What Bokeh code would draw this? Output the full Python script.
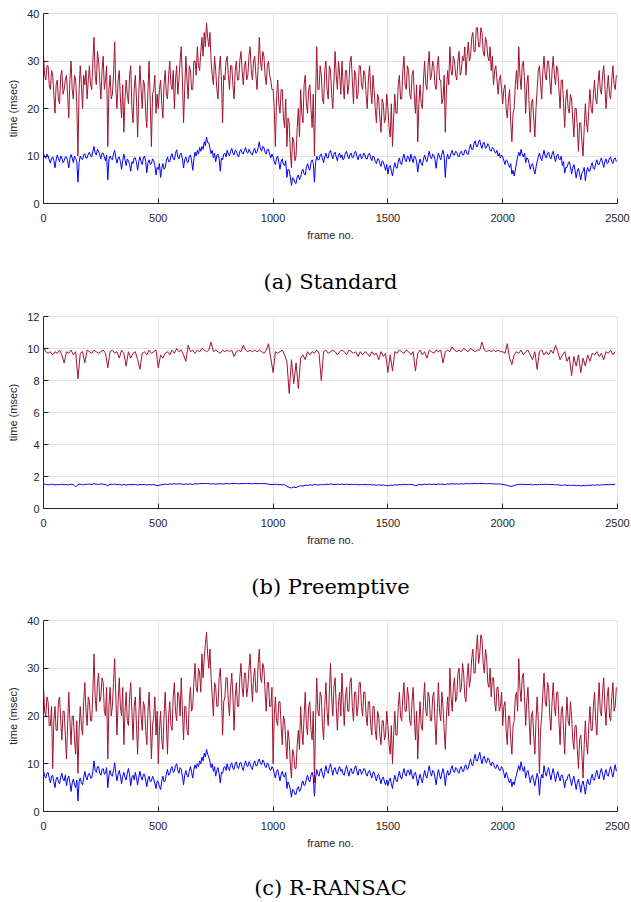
from bokeh.plotting import figure
from bokeh.models import Range1d, FixedTicker, LinearAxis
from bokeh.layouts import column
from bokeh.embed import file_html
from bokeh.resources import INLINE

RED = "#A2142F"
BLUE = "#0000FF"
STEP_FINE = 5     # one value every 5 frames
STEP_COARSE = 10  # one value every 10 frames

x_ticks = [0, 500, 1000, 1500, 2000, 2500]
y_ticks_ab = [0, 10, 20, 30, 40]
y_ticks_b = [0, 2, 4, 6, 8, 10, 12]
captions = ["(a) Standard", "(b) Preemptive", "(c) R-RANSAC"]

standard_red = [
    31, 27, 26, 29, 29, 25, 24, 28, 27, 23, 19, 25, 26, 22, 21, 27, 28, 23, 24, 26,
    27, 23, 18, 26, 30, 24, 22, 27, 26, 21, 10, 24, 29, 25, 20, 27, 25, 28, 22, 26,
    29, 25, 24, 30, 35, 27, 25, 32, 30, 26, 22, 28, 31, 24, 26, 29, 12, 24, 27, 22,
    23, 27, 34, 24, 20, 26, 28, 22, 18, 25, 15, 22, 26, 23, 21, 27, 29, 20, 17, 24,
    27, 22, 14, 23, 29, 24, 20, 26, 25, 19, 16, 24, 30, 21, 12, 23, 24, 27, 19, 23,
    20, 24, 26, 21, 18, 25, 28, 23, 22, 27, 30, 25, 24, 28, 20, 26, 29, 23, 26, 30,
    33, 26, 17, 24, 31, 26, 22, 29, 28, 24, 24, 30, 30, 27, 33, 29, 28, 32, 35, 31,
    36, 33, 38, 35, 33, 36, 30, 27, 25, 31, 28, 24, 22, 28, 31, 26, 17, 27, 26, 30,
    31, 27, 24, 29, 29, 25, 22, 28, 30, 26, 26, 30, 32, 28, 25, 29, 30, 26, 27, 31,
    33, 28, 26, 30, 31, 27, 24, 29, 35, 30, 28, 32, 31, 27, 25, 29, 30, 27, 26, 24,
    24, 20, 12, 22, 26, 21, 19, 24, 24, 18, 16, 22, 12, 18, 17, 11, 7.5, 14, 13, 9,
    10, 16, 20, 14, 24, 19, 17, 25, 27, 21, 19, 24, 25, 20, 16, 23, 10, 22, 33, 24,
    24, 29, 27, 22, 21, 28, 30, 24, 22, 29, 28, 23, 20, 26, 32, 27, 24, 30, 27, 23,
    30, 25, 22, 28, 28, 23, 25, 30, 31, 26, 21, 28, 27, 22, 23, 29, 29, 25, 24, 28,
    27, 23, 20, 26, 29, 24, 21, 27, 24, 20, 17, 23, 22, 18, 15, 22, 21, 17, 18, 23,
    20, 16, 14, 21, 12, 18, 23, 19, 19, 25, 27, 22, 22, 28, 31, 25, 24, 29, 28, 23,
    22, 27, 28, 23, 19, 25, 13, 21, 25, 21, 20, 26, 30, 25, 24, 29, 32, 26, 27, 30,
    29, 25, 24, 29, 31, 26, 26, 21, 22, 27, 15, 24, 28, 25, 33, 28, 27, 31, 30, 27,
    26, 30, 32, 27, 28, 31, 30, 33, 27, 31, 34, 30, 31, 35, 36, 32, 32, 37, 37, 33,
    33, 37, 36, 32, 31, 35, 34, 31, 30, 33, 28, 31, 25, 28, 29, 26, 23, 26, 27, 24,
    21, 24, 25, 20, 18, 22, 24, 17, 13, 19, 20, 25, 28, 24, 33, 27, 24, 29, 30, 26,
    19, 25, 27, 21, 15, 21, 22, 18, 14, 20, 24, 28, 29, 25, 22, 28, 31, 27, 26, 30,
    30, 26, 23, 28, 31, 27, 25, 29, 28, 24, 20, 26, 26, 21, 16, 22, 24, 20, 19, 23,
    22, 18, 14, 20, 20, 16, 11, 17, 17, 13, 10, 16, 21, 17, 15, 20, 24, 20, 19, 23,
    26, 22, 21, 25, 28, 24, 23, 27, 29, 25, 20, 24, 27, 23, 22, 26, 29, 25, 24, 27,
]

standard_blue = [
    10.5, 9.8, 9.5, 10.4, 10, 9.2, 8.5, 9.6, 9.8, 9, 7.5, 9.2, 10.2, 9.4, 8.8, 10, 9.6, 8.6, 9, 9.8,
    9.8, 9, 7.5, 9.4, 10.3, 9.6, 8.6, 10, 9.5, 8.8, 4.5, 8.6, 10, 9.4, 9.2, 10.2, 10.5, 9.6, 9.6, 10.4,
    10.8, 10, 9.8, 11, 12, 10.6, 10.2, 11.4, 11, 10.2, 9.4, 10.6, 10.6, 9.8, 9, 10.2, 5, 9.2, 10, 9.4,
    9.2, 10.4, 11.2, 9.6, 8.5, 9.6, 9.8, 8.8, 7.2, 9, 10.4, 9.2, 8, 9.4, 9, 8.2, 6.8, 8.8, 8.4, 9.6,
    9.6, 8.6, 7, 8.8, 9.8, 8.8, 8.2, 9.6, 10, 8.8, 6.5, 8.6, 9.2, 8.2, 8.4, 9.4, 9, 8, 6, 7.6,
    7.2, 8.4, 5.5, 7.4, 8.4, 7.2, 7.6, 9, 9.8, 8.8, 8.8, 10, 10.5, 9.4, 9.2, 10.6, 11.3, 9.8, 9.4, 10.4,
    10.6, 9.4, 7.5, 9.2, 9.8, 8.8, 8.6, 10, 10.2, 9, 7, 9.4, 10.8, 10, 11.2, 10.4, 11.8, 11, 12, 11.4,
    13, 12.2, 14, 12.8, 12.8, 11.6, 10.5, 11.2, 9.6, 10.6, 8.8, 10.2, 10.4, 9.4, 6.8, 9.6, 9.2, 10.4, 10.6, 9.8,
    11.2, 10.4, 10, 11, 11.6, 10.6, 10.2, 11.2, 11, 10.2, 9.8, 11, 11.4, 10.6, 10.4, 11.2, 11.8, 10.8, 10.6, 11.4,
    11, 10.4, 10.2, 11.2, 11.6, 10.6, 10.8, 11.8, 13, 11.4, 11, 12, 11.8, 10.8, 10.4, 11.4, 11.4, 10.4, 9.6, 10.4,
    9.8, 8.8, 8.2, 9.6, 10, 8.6, 7.2, 8.8, 9.4, 8.2, 8, 9, 5.5, 7.2, 7, 5.6, 3.8, 5.4, 5.2, 4.4,
    4.2, 5.6, 6, 5, 5.5, 6.8, 7.2, 6.2, 6, 7.6, 8.4, 7.4, 7, 8.6, 9.2, 8.4, 4.5, 8.6, 10, 9.2,
    9.2, 10.2, 10.4, 9.4, 8.6, 9.8, 10.6, 9.6, 9.6, 10.8, 11.2, 10.2, 9.4, 10.4, 10.8, 9.8, 9, 10.2, 10.6, 9.6,
    10.2, 9.2, 9.6, 10.6, 11, 10, 9.4, 10.4, 10.6, 9.6, 9.8, 10.8, 11, 10, 9.2, 10.2, 10.4, 9.4, 9.8, 10.6,
    10.2, 9.4, 9.4, 10.4, 10.6, 9.6, 9, 10, 9.8, 8.8, 8.4, 9.4, 9.4, 8.4, 7.8, 9, 8.8, 7.8, 7, 8.2,
    6.2, 7.6, 8, 6.8, 5.8, 7.4, 8.6, 7.6, 7.4, 8.8, 9.6, 8.4, 8.2, 9.6, 10.4, 9.2, 8.8, 10, 9.8, 8.8,
    10.4, 9.4, 8.6, 10, 9.8, 8.8, 6.6, 8.4, 9.4, 8.4, 8, 9.4, 10.2, 9.2, 8.8, 10, 11, 9.8, 9.4, 10.4,
    10.2, 9.2, 7.4, 9.4, 10.6, 9.8, 9.2, 10.4, 11.2, 10, 5.5, 9.2, 10.4, 9.4, 9.6, 10.6, 11.2, 10.2, 10.2, 11,
    10.8, 10, 9.8, 10.8, 11, 10.2, 10.2, 11.2, 11.2, 10.4, 10.4, 11.6, 12.5, 11.4, 11.4, 12.6, 13.2, 12, 12, 13,
    13.4, 12.2, 11.6, 12.8, 12.8, 11.6, 11.8, 12.6, 12.2, 11.2, 11, 11.8, 11.6, 10.8, 10.6, 11.2, 10, 10.6, 9.6, 10.2,
    9.8, 9, 8.2, 9.2, 9, 8.2, 7.6, 8.4, 6.2, 7, 5.8, 7, 8.6, 9.8, 10.8, 10, 11.4, 10.4, 9.8, 10.6,
    8.6, 9.6, 9.4, 8.4, 7.2, 8.2, 8.4, 7.2, 6.2, 7.6, 8.8, 9.8, 10.6, 9.6, 9, 10.2, 11.2, 10, 9.6, 10.6,
    10.8, 9.8, 9.4, 10.4, 11, 9.8, 8.8, 10, 10.4, 9.4, 9.2, 10, 8, 8.8, 6.4, 7.6, 7.6, 8.4, 8.8, 7.8,
    6.2, 7.4, 8.2, 7, 5.4, 6.8, 7.4, 6.2, 5, 6.4, 6.8, 7.6, 4.8, 6.6, 7.6, 6.8, 6.8, 8, 8.6, 7.4,
    7.2, 8.4, 9.2, 8.2, 8.2, 9, 9.6, 8.6, 7.6, 8.8, 9.4, 8.4, 8.6, 9.6, 9.8, 8.8, 8.4, 9.4, 9.6, 8.8,
]

preemptive_red = [
    10.1, 9.8, 9.7, 9.8, 9.6, 9.8, 9.7, 9.9, 9.6, 9.1,
    9.8, 9.7, 9.9, 9.6, 9.8, 8.1, 9.7, 9.8, 9.1, 9.9,
    9.8, 9.7, 9.9, 9.8, 9.7, 9.8, 9.9, 9.7, 8.8, 9.8,
    9.9, 9.7, 9.8, 9.4, 9.9, 9.7, 8.9, 9.8, 9.4, 9.7,
    9.8, 9.3, 8.7, 9.7, 9.8, 9.6, 9.9, 9.7, 9.8, 9.9,
    8.8, 9.6, 9.4, 9.7, 9.8, 9.6, 9.9, 9.7, 10.0, 9.8,
    9.9, 9.6, 9.2, 10.2, 9.8, 9.9, 9.7, 9.9, 9.8, 10.0,
    9.9, 9.8, 9.9, 10.4, 9.8, 9.9, 9.8, 9.7, 9.9, 9.8,
    9.9, 9.8, 9.9, 9.5, 9.8, 9.9, 9.8, 10.2, 9.9, 9.8,
    9.9, 9.8, 9.9, 9.8, 9.9, 9.8, 9.7, 9.9, 10.3, 9.4,
    8.5, 9.8, 9.7, 9.8, 9.9, 9.6, 9.2, 7.2, 9.3, 7.8,
    9.1, 7.5, 9.4, 9.6, 9.3, 9.8, 9.6, 9.8, 9.7, 9.9,
    9.7, 8.0, 9.8, 9.9, 9.7, 9.8, 9.9, 9.8, 9.6, 9.8,
    9.9, 9.8, 9.6, 9.9, 9.8, 9.7, 9.8, 9.5, 9.8, 9.6,
    9.8, 9.7, 9.5, 9.8, 9.6, 9.7, 9.3, 9.8, 9.5, 9.7,
    8.5, 9.6, 8.6, 9.8, 9.7, 9.9, 9.8, 9.7, 9.9, 9.8,
    9.6, 9.8, 8.6, 9.7, 9.9, 9.6, 9.8, 9.4, 9.9, 9.8,
    9.7, 9.9, 9.8, 9.9, 9.1, 9.8, 9.9, 9.8, 10.1, 9.9,
    9.8, 9.9, 9.8, 10.0, 9.9, 9.8, 10.0, 9.9, 9.8, 9.9,
    9.9, 10.4, 9.9, 9.8, 9.9, 9.8, 9.9, 9.8, 9.9, 9.8,
    9.8, 9.7, 10.3, 9.4, 9.0, 9.6, 9.8, 9.7, 9.9, 9.6,
    9.8, 9.9, 9.6, 9.3, 9.8, 8.7, 9.8, 9.9, 9.6, 9.8,
    9.6, 9.9, 9.7, 10.2, 9.8, 9.3, 9.6, 9.8, 9.2, 9.5,
    8.3, 9.5, 8.9, 9.6, 8.5, 9.4, 8.9, 9.6, 9.2, 9.7,
    9.6, 9.8, 9.5, 9.7, 9.3, 9.8, 9.7, 9.9, 9.6, 9.8,
]

preemptive_blue = [
    1.55, 1.5, 1.48, 1.5, 1.52, 1.47, 1.5, 1.49, 1.52, 1.48,
    1.5, 1.47, 1.52, 1.49, 1.35, 1.5, 1.52, 1.48, 1.5, 1.52,
    1.53, 1.5, 1.55, 1.52, 1.5, 1.54, 1.51, 1.5, 1.42, 1.52,
    1.5, 1.53, 1.48, 1.51, 1.47, 1.5, 1.46, 1.5, 1.48, 1.51,
    1.5, 1.47, 1.5, 1.49, 1.51, 1.46, 1.5, 1.48, 1.5, 1.45,
    1.44, 1.47, 1.5, 1.52, 1.5, 1.54, 1.52, 1.55, 1.53, 1.55,
    1.54, 1.5, 1.53, 1.51, 1.54, 1.5, 1.55, 1.53, 1.56, 1.55,
    1.57, 1.56, 1.55, 1.53, 1.55, 1.52, 1.54, 1.55, 1.53, 1.55,
    1.56, 1.54, 1.56, 1.55, 1.57, 1.54, 1.56, 1.55, 1.57, 1.55,
    1.56, 1.54, 1.57, 1.55, 1.56, 1.55, 1.57, 1.54, 1.52, 1.5,
    1.5, 1.52, 1.48, 1.5, 1.47, 1.49, 1.38, 1.32, 1.28, 1.35,
    1.3, 1.38, 1.42, 1.4, 1.46, 1.44, 1.48, 1.46, 1.5, 1.48,
    1.47, 1.5, 1.48, 1.52, 1.5, 1.53, 1.51, 1.5, 1.52, 1.5,
    1.53, 1.5, 1.52, 1.49, 1.51, 1.5, 1.52, 1.48, 1.5, 1.49,
    1.5, 1.48, 1.5, 1.47, 1.49, 1.45, 1.48, 1.46, 1.47, 1.44,
    1.42, 1.46, 1.44, 1.48, 1.47, 1.5, 1.48, 1.51, 1.49, 1.5,
    1.51, 1.48, 1.42, 1.47, 1.5, 1.48, 1.52, 1.5, 1.53, 1.5,
    1.52, 1.49, 1.53, 1.51, 1.52, 1.5, 1.54, 1.52, 1.55, 1.53,
    1.54, 1.52, 1.55, 1.53, 1.56, 1.54, 1.56, 1.55, 1.57, 1.55,
    1.57, 1.55, 1.56, 1.54, 1.56, 1.55, 1.54, 1.52, 1.54, 1.52,
    1.51, 1.48, 1.44, 1.4, 1.38, 1.45, 1.48, 1.5, 1.52, 1.49,
    1.51, 1.49, 1.52, 1.47, 1.5, 1.48, 1.51, 1.49, 1.52, 1.5,
    1.51, 1.49, 1.5, 1.47, 1.49, 1.46, 1.45, 1.48, 1.44, 1.46,
    1.43, 1.46, 1.42, 1.45, 1.41, 1.44, 1.42, 1.46, 1.44, 1.47,
    1.45, 1.48, 1.46, 1.49, 1.47, 1.5, 1.48, 1.51, 1.49, 1.51,
]

rransac_red = [
    26, 21, 20, 24, 23, 18, 18, 22, 9, 19, 22, 17, 17, 23, 24, 19, 15, 21, 21, 16,
    11, 18, 25, 19, 14, 20, 20, 15, 12, 19, 8, 17, 22, 18, 16, 23, 27, 21, 18, 24,
    23, 19, 19, 25, 33, 24, 21, 27, 29, 23, 24, 28, 27, 21, 20, 26, 11, 22, 26, 20,
    22, 27, 32, 24, 16, 23, 28, 22, 20, 26, 14, 21, 25, 19, 18, 24, 27, 21, 15, 22,
    24, 18, 12, 20, 26, 20, 17, 23, 22, 17, 14, 21, 25, 19, 11, 18, 20, 24, 16, 21,
    10, 17, 21, 15, 13, 20, 25, 19, 12, 20, 23, 18, 17, 24, 27, 21, 19, 25, 24, 20,
    28, 21, 15, 22, 22, 17, 16, 23, 26, 21, 22, 27, 31, 26, 25, 30, 29, 25, 33, 28,
    32, 35, 37.5, 33, 30, 34, 28, 24, 20, 27, 26, 22, 22, 28, 30, 25, 16, 23, 24, 28,
    28, 23, 20, 26, 29, 24, 17, 24, 27, 22, 22, 28, 31, 26, 24, 29, 29, 24, 26, 30,
    33, 27, 23, 28, 30, 25, 25, 31, 34, 28, 27, 31, 30, 25, 21, 27, 27, 22, 22, 26,
    10, 20, 24, 19, 18, 23, 23, 18, 14, 20, 19, 15, 11, 17, 15, 10, 7, 13, 12, 9,
    9, 14, 17, 13, 22, 17, 14, 20, 25, 18, 16, 22, 23, 17, 15, 21, 6, 19, 28, 21,
    20, 25, 24, 18, 15, 22, 27, 21, 18, 25, 31, 24, 20, 26, 28, 22, 17, 23, 25, 20,
    29, 23, 18, 24, 26, 21, 21, 27, 28, 22, 19, 25, 25, 20, 22, 27, 27, 22, 20, 25,
    25, 20, 18, 23, 23, 18, 16, 22, 22, 17, 15, 21, 20, 16, 14, 19, 19, 15, 16, 21,
    18, 14, 12, 18, 10, 16, 21, 16, 16, 22, 25, 20, 19, 24, 27, 21, 21, 26, 24, 19,
    18, 23, 26, 20, 15, 21, 11, 18, 23, 18, 17, 23, 27, 21, 20, 25, 24, 19, 19, 24,
    25, 19, 14, 21, 27, 21, 19, 25, 22, 17, 13, 20, 24, 20, 30, 24, 21, 26, 28, 23,
    24, 29, 30, 25, 26, 31, 29, 24, 23, 28, 31, 26, 28, 32, 34, 29, 29, 34, 37, 31,
    33, 37, 36, 31, 29, 34, 32, 27, 26, 30, 24, 28, 28, 23, 21, 26, 26, 21, 22, 25,
    18, 22, 23, 17, 14, 20, 20, 15, 12, 18, 19, 24, 25, 21, 32, 26, 23, 28, 29, 24,
    18, 23, 26, 20, 14, 20, 21, 16, 12, 19, 24, 19, 8, 17, 20, 25, 29, 23, 22, 27,
    26, 20, 17, 23, 27, 22, 20, 25, 25, 19, 14, 21, 22, 17, 12, 19, 24, 19, 18, 23,
    20, 15, 13, 18, 18, 13, 9, 15, 16, 12, 7, 14, 19, 14, 12, 18, 22, 17, 17, 22,
    25, 19, 16, 22, 27, 21, 20, 25, 28, 22, 18, 24, 26, 20, 19, 24, 27, 21, 22, 26,
]

rransac_blue = [
    8.6, 7.4, 7, 8, 8.2, 7, 6, 7.4, 7.6, 6.2, 5, 6.8, 7.2, 6.2, 5.8, 7.2, 8, 6.8, 6.4, 7.6,
    5.4, 6.8, 7.4, 6, 4.2, 6, 6.8, 5.6, 5, 6.6, 2.2, 6.2, 7, 6, 5.6, 7, 8.4, 7.2, 6.6, 7.8,
    8, 7, 7, 8.4, 10.6, 8.6, 8.2, 9.4, 9.4, 8, 7.6, 8.8, 9, 7.8, 8, 9.2, 5, 7.6, 8.6, 7.6,
    7.4, 8.6, 10.2, 8, 6.4, 7.8, 8.6, 7.4, 5.8, 7.4, 8.2, 7.2, 6.6, 8, 9, 7.6, 5.4, 7.2, 7.6, 6.6,
    8.2, 7, 5.6, 7.2, 8.4, 7.2, 6.6, 7.8, 7.8, 6.6, 5.2, 6.8, 7.4, 6.2, 6.4, 7.4, 6.8, 5.8, 4.8, 6.4,
    6.2, 5.2, 4.6, 6.4, 7.4, 6.2, 6.4, 7.8, 8.8, 7.6, 7.8, 9, 9.4, 8.2, 8.4, 9.6, 10, 8.6, 8, 9.2,
    8.8, 7.4, 5.6, 7.6, 8.6, 7.6, 7.2, 8.4, 9.4, 8.2, 7, 8.8, 9.8, 9, 10, 9.4, 10.6, 10, 11.4, 10.6,
    12.2, 11.4, 13, 12, 11.4, 10.4, 9.2, 10, 8.4, 9.4, 7.4, 8.6, 9.2, 8, 6, 8.2, 8, 9.2, 9.4, 8.6,
    10, 9, 8.6, 9.8, 10.2, 9, 8.8, 10, 10.4, 9.2, 9, 10.2, 10.2, 9.2, 8.6, 9.8, 10.6, 9.6, 9.4, 10.4,
    10, 9.2, 8.8, 10, 10.6, 9.6, 9.6, 10.6, 11, 10, 9.8, 10.8, 10.4, 9.4, 9.2, 10.2, 9.8, 8.8, 8.6, 9.4,
    9, 8, 7, 8.4, 8.8, 7.6, 6.4, 7.8, 8.4, 7.4, 7.2, 8.2, 4.8, 6.2, 5.6, 4.6, 3, 4.6, 4.4, 3.6,
    3.6, 4.8, 5.2, 4.2, 4.6, 5.8, 6.4, 5.4, 5.6, 6.8, 7.6, 6.6, 6.2, 7.6, 8.2, 7.2, 3.2, 7, 8.8, 7.8,
    7.4, 8.6, 9, 7.8, 7, 8.4, 9.6, 8.4, 8, 9.2, 10, 8.8, 7.6, 8.8, 9.2, 8.2, 7.8, 9, 9.4, 8.4,
    8.8, 7.8, 7.6, 8.8, 9.6, 8.4, 7.4, 8.6, 9, 8, 8, 9.2, 9.6, 8.4, 7.6, 8.8, 8.8, 7.8, 8.2, 9,
    8.8, 7.8, 7.4, 8.4, 8.6, 7.6, 7, 8.2, 8.2, 7.2, 6.4, 7.6, 7.8, 6.8, 5.8, 7, 7.2, 6.2, 5.6, 6.6,
    5.4, 6.4, 7, 5.8, 4.8, 6.4, 7.6, 6.6, 6.2, 7.4, 8.4, 7.2, 6.8, 8, 9, 7.8, 7.4, 8.6, 8.6, 7.6,
    8.8, 7.6, 6.8, 8, 8.2, 7, 5.4, 6.8, 7.8, 6.8, 6, 7.4, 8.6, 7.4, 7, 8.4, 9.6, 8.2, 7.4, 8.6,
    8.4, 7.2, 5.6, 7.4, 8.8, 7.6, 6.8, 8, 9, 7.8, 5.4, 7.6, 8.6, 7.6, 7.8, 9, 9.6, 8.4, 8.2, 9.2,
    9, 8.2, 8, 9.2, 9.4, 8.4, 8.4, 9.6, 9.8, 8.8, 9, 10.2, 11, 9.8, 9.6, 11, 12, 10.6, 10.6, 11.6,
    12.4, 11, 10, 11.2, 11.6, 10.4, 10.2, 11.2, 11, 10, 9.6, 10.4, 10, 9.2, 9, 9.8, 9.4, 8.6, 8.6, 9.4,
    9, 8, 7, 8.2, 7.6, 6.6, 6, 6.8, 5.2, 6.2, 5.6, 6.8, 7.6, 8.8, 9.6, 8.6, 10.4, 9.2, 8.4, 9.4,
    7, 8.2, 8.6, 7.4, 6, 7.2, 7.6, 6.4, 5.4, 6.8, 8, 7, 3.4, 6.6, 7.8, 7, 9.6, 8.2, 7.4, 8.6,
    9.2, 7.8, 6.6, 8, 9, 7.6, 6.2, 7.6, 8.4, 7.2, 6.4, 7.6, 7.6, 6.4, 5, 6.6, 6.6, 7.6, 7.8, 6.6,
    5.4, 6.6, 7.4, 6, 4.6, 6, 6.8, 5.6, 4, 5.6, 6.4, 5.2, 3.6, 5.6, 6.8, 5.8, 5.6, 7, 7.8, 6.6,
    6.6, 7.8, 8.6, 7.4, 6.8, 8.2, 9, 7.8, 6.6, 8, 8.8, 7.6, 7.4, 8.6, 9.4, 8.2, 7.2, 8.6, 9.8, 8.4,
]

AXIS_COLOR = "#262626"
GRID_COLOR = "#E3E3E3"
SANS = "Liberation Sans"


def make_panel(red, blue, step, ymax, yticks, caption, height, top, bottom, cap_standoff):
    p = figure(width=631, height=height, output_backend="svg", toolbar_location=None,
               x_range=Range1d(0, 2500), y_range=Range1d(0, ymax),
               min_border_left=43, min_border_right=14,
               min_border_top=top, min_border_bottom=bottom,
               background_fill_color="white", border_fill_color="white")
    p.outline_line_color = GRID_COLOR
    p.grid.grid_line_color = GRID_COLOR
    p.grid.grid_line_width = 1
    p.xaxis.ticker = FixedTicker(ticks=x_ticks)
    p.yaxis.ticker = FixedTicker(ticks=yticks)
    for ax in p.axis:
        ax.major_tick_in = 5
        ax.major_tick_out = 0
        ax.minor_tick_line_color = None
        ax.axis_line_color = AXIS_COLOR
        ax.major_tick_line_color = AXIS_COLOR
        ax.major_label_text_font = SANS
        ax.major_label_text_font_size = "11px"
        ax.major_label_text_color = AXIS_COLOR
        ax.axis_label_text_font = SANS
        ax.axis_label_text_font_size = "11px"
        ax.axis_label_text_font_style = "normal"
        ax.axis_label_text_color = AXIS_COLOR
    p.xaxis.axis_label = "frame no."
    p.yaxis.axis_label = "time (msec)"
    p.xaxis.major_label_standoff = 10
    p.xaxis.axis_label_standoff = 4
    p.yaxis.major_label_standoff = 4
    p.yaxis.axis_label_standoff = 5

    xr = [i * step for i in range(len(red))]
    xb = [i * step for i in range(len(blue))]
    p.line(xr, red, line_color=RED, line_width=1)
    p.line(xb, blue, line_color=BLUE, line_width=1)

    # caption as the label of a second, tick-less axis below the x axis
    cap = LinearAxis(ticker=FixedTicker(ticks=[]), axis_label=caption,
                     axis_line_color=None, major_tick_line_color=None,
                     minor_tick_line_color=None, major_tick_in=0, major_tick_out=0,
                     major_label_standoff=0,
                     axis_label_standoff=cap_standoff,
                     axis_label_text_font="DejaVu Serif",
                     axis_label_text_font_size="21px",
                     axis_label_text_font_style="normal",
                     axis_label_text_color="black")
    p.add_layout(cap, "below")
    return p


f1 = make_panel(standard_red, standard_blue, STEP_FINE, 40, y_ticks_ab, captions[0], 304, 13, 101, 26)
f2 = make_panel(preemptive_red, preemptive_blue, STEP_COARSE, 12, y_ticks_b, captions[1], 304, 12, 100, 26)
f3 = make_panel(rransac_red, rransac_blue, STEP_FINE, 40, y_ticks_ab, captions[2], 294, 12, 91, 24)

layout = column(f1, f2, f3, spacing=0)
open("out.html", "w").write(file_html(layout, INLINE))
